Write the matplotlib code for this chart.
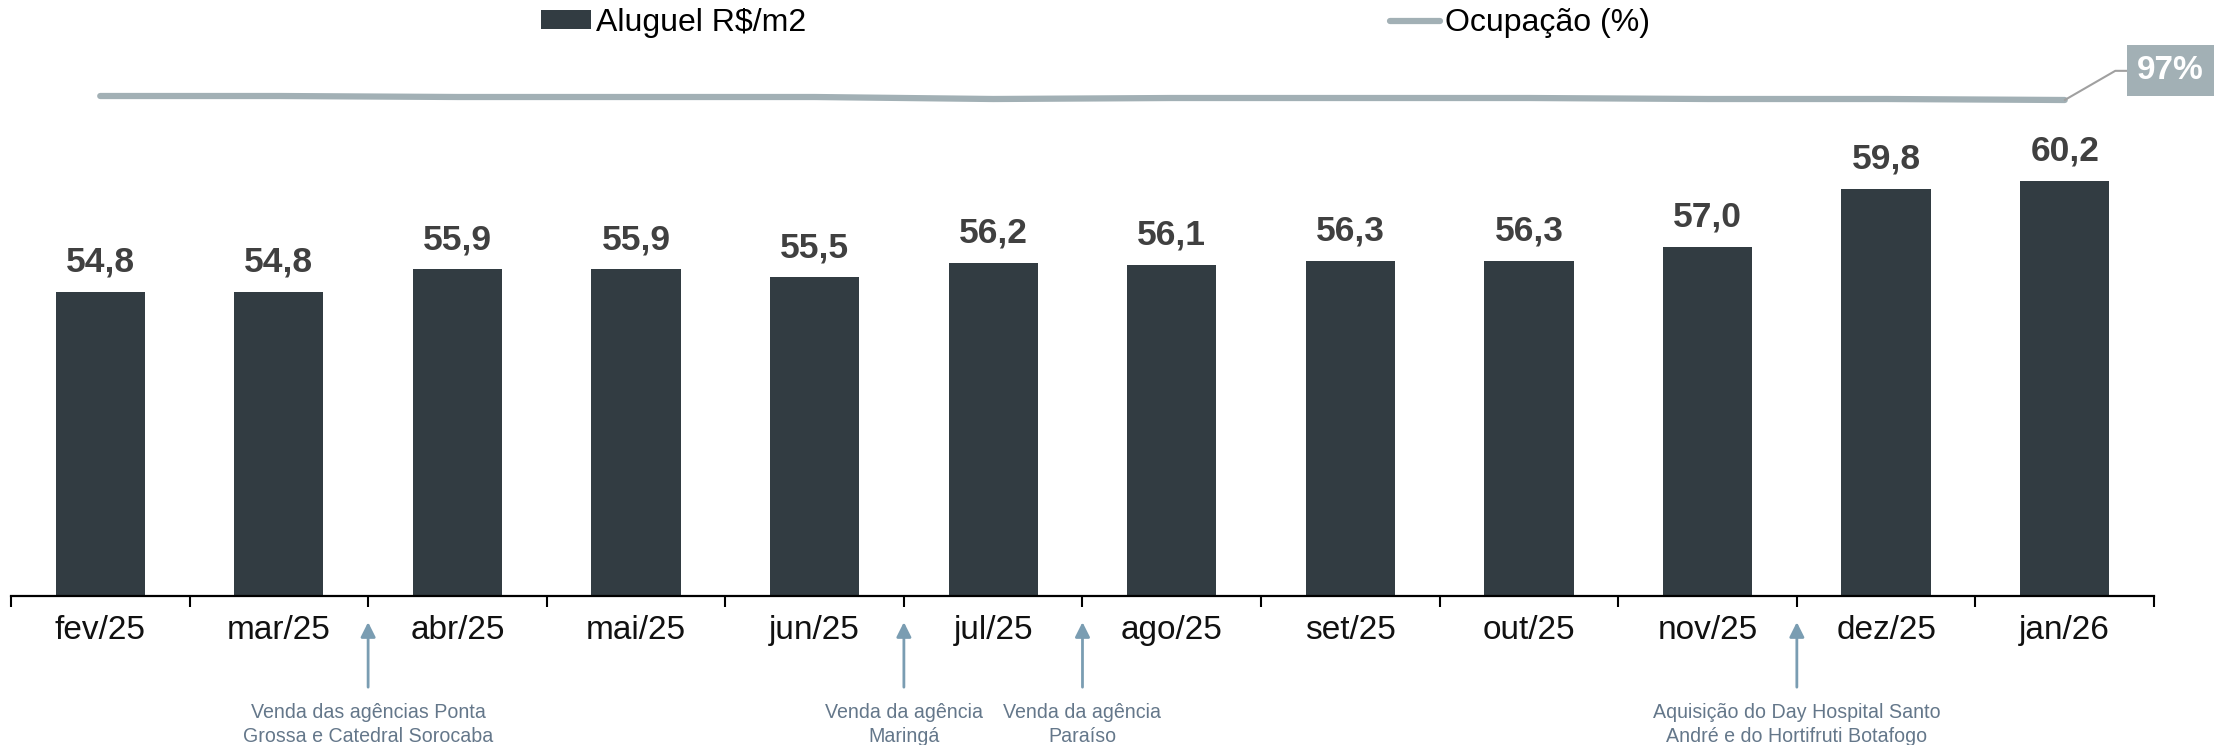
import matplotlib.pyplot as plt
from matplotlib.patches import Patch
from matplotlib.lines import Line2D

meses = ["fev/25", "mar/25", "abr/25", "mai/25", "jun/25", "jul/25",
         "ago/25", "set/25", "out/25", "nov/25", "dez/25", "jan/26"]
aluguel = [54.8, 54.8, 55.9, 55.9, 55.5, 56.2, 56.1, 56.3, 56.3, 57.0, 59.8, 60.2]
ocupacao = [97.4, 97.4, 97.3, 97.3, 97.3, 97.1, 97.2, 97.2, 97.2, 97.1, 97.1, 97.0]

# eventos marcados entre dois meses (posicao = indice do mes anterior + 0.5)
eventos_pos = [1.5, 4.5, 5.5, 9.5]
eventos_txt = ["Venda das agências Ponta\nGrossa e Catedral Sorocaba",
               "Venda da agência\nMaringá",
               "Venda da agência\nParaíso",
               "Aquisição do Day Hospital Santo\nAndré e do Hortifruti Botafogo"]

cor_barra = "#323c42"
cor_linha = "#a2b0b5"
cor_seta = "#7a9db2"
cor_evento = "#64778a"

plt.rcParams['font.family'] = ['Liberation Sans', 'DejaVu Sans']

fig = plt.figure(figsize=(22.31, 7.45), dpi=100)
ax = fig.add_axes([0.0049, 0.2, 0.9606, 0.7463])

x = list(range(len(meses)))
ax.bar(x, aluguel, width=0.5, color=cor_barra, zorder=2)
for xi, v in zip(x, aluguel):
    ax.annotate(f"{v:.1f}".replace(".", ","), (xi, v), xytext=(0, 14.5),
                textcoords="offset points", ha="center", va="baseline",
                fontsize=25.5, fontweight="bold", color="#404040")

ax.set_xlim(-0.5, len(meses) - 0.5)
ax.set_ylim(40, 67.05)
ax.set_xticks(x)
ax.set_xticklabels(meses, fontsize=24, color="#111111")
ax.tick_params(axis="x", which="major", length=0, pad=14)
ax.set_xticks([i - 0.5 for i in range(len(meses) + 1)], minor=True)
ax.tick_params(axis="x", which="minor", length=8, width=1.5, color="black")
ax.set_yticks([])
for s in ["top", "left", "right"]:
    ax.spines[s].set_visible(False)
ax.spines["bottom"].set_linewidth(1.6)

# ocupacao em eixo secundario
ax2 = ax.twinx()
ax2.plot(x, ocupacao, color=cor_linha, lw=4.5, solid_capstyle="round")
ax2.set_ylim(47.4, 103.0)
ax2.set_yticks([])
for s in ["top", "left", "right", "bottom"]:
    ax2.spines[s].set_visible(False)
ax2.annotate(f"{ocupacao[-1]:.0f}%", (x[-1], ocupacao[-1]), xytext=(76, 21),
             textcoords="offset points", ha="center", va="center",
             fontsize=24, fontweight="bold", color="white",
             bbox=dict(boxstyle="square,pad=0.3", fc=cor_linha, ec="none"),
             arrowprops=dict(arrowstyle="-", color="#a0a0a0", lw=1.5,
                             relpos=(0, 0.5), shrinkA=0, shrinkB=0,
                             connectionstyle="angle,angleA=0,angleB=30,rad=0"))

# setas e textos dos eventos abaixo do eixo
for pos, txt in zip(eventos_pos, eventos_txt):
    ax.annotate("", xy=(pos, -0.047), xytext=(pos, -0.164),
                xycoords=("data", "axes fraction"),
                textcoords=("data", "axes fraction"),
                arrowprops=dict(arrowstyle="-|>", mutation_scale=22,
                                color=cor_seta, lw=2, shrinkA=0, shrinkB=0))
    ax.text(pos, -0.192, txt, transform=ax.get_xaxis_transform(),
            ha="center", va="top", fontsize=14.1, color=cor_evento,
            linespacing=1.35)

handles = [Patch(facecolor=cor_barra, edgecolor="none"),
           Line2D([0], [0], color=cor_linha, lw=4.5, solid_capstyle="round")]
fig.legend(handles, ["Aluguel R$/m2", "Ocupação (%)"], loc="center",
           bbox_to_anchor=(0.491, 0.969), ncol=2, frameon=False,
           fontsize=23, handlelength=1.55, handleheight=0.55,
           handletextpad=0.15, columnspacing=18.3)

fig.savefig("out.png", dpi=100)
